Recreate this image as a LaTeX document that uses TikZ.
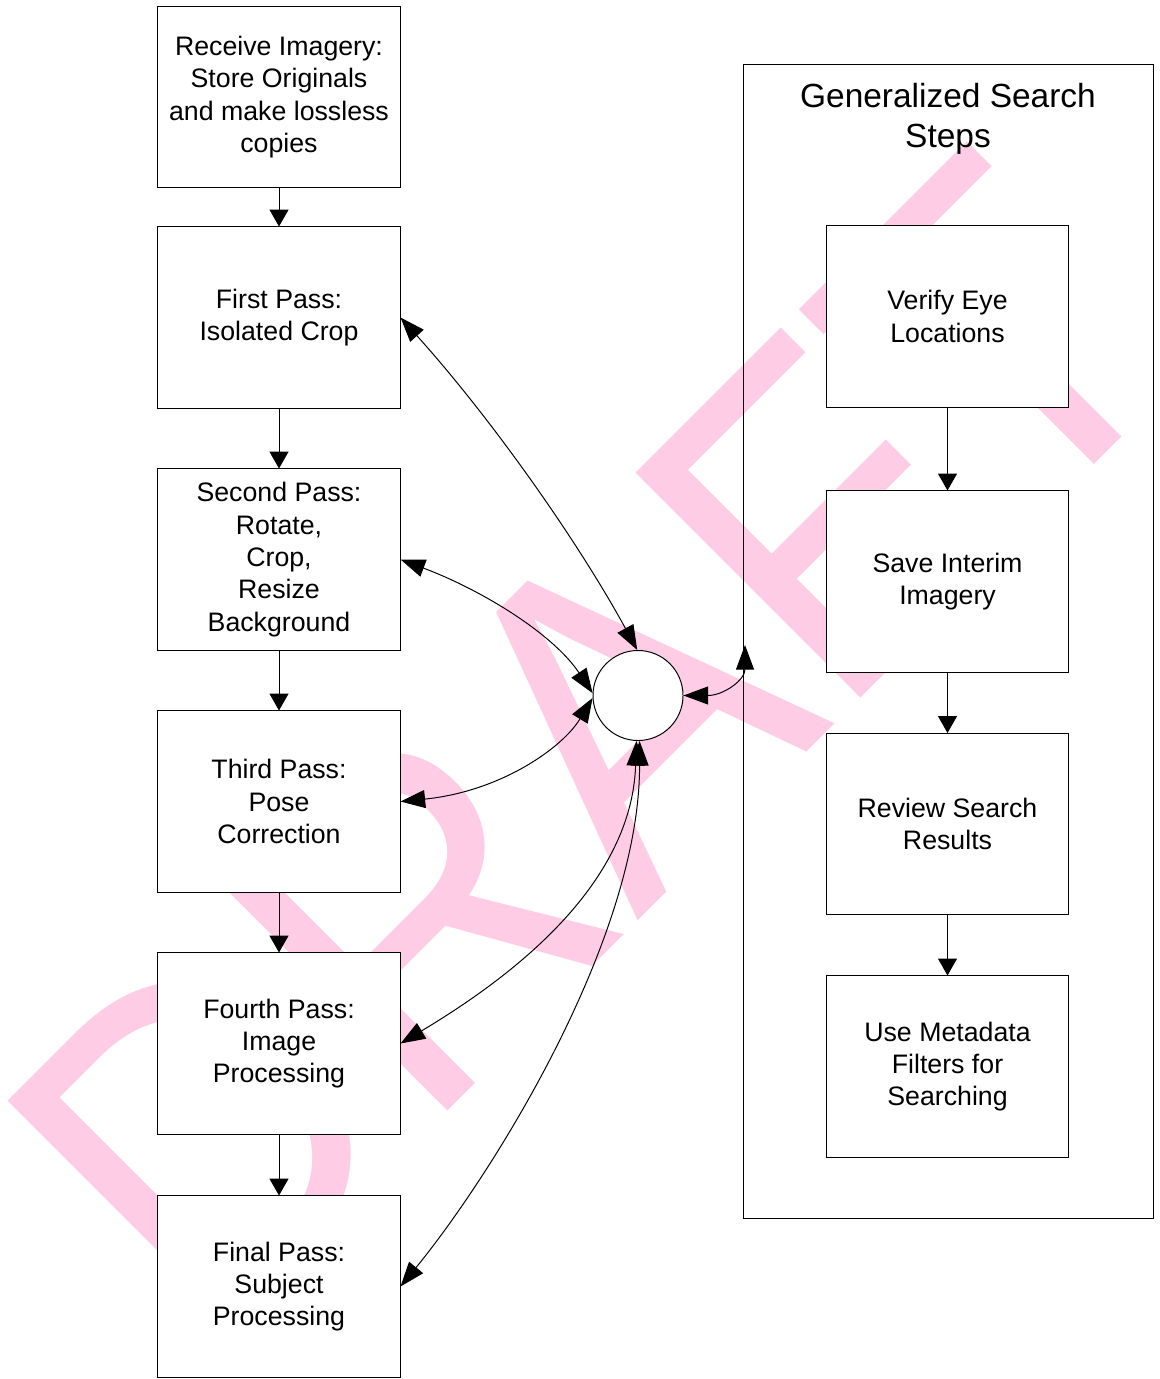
\documentclass[tikz,border=0pt]{standalone}
\usepackage{fontspec}
\setmainfont{Liberation Sans}
\usetikzlibrary{arrows.meta,calc}
\definecolor{draftpink}{RGB}{255,204,229}

\begin{document}
\begin{tikzpicture}[x=0.025cm,y=-0.025cm,line width=0.7pt,
  pass/.style={draw,fill=white,minimum width=6.05cm,minimum height=4.525cm,align=center,inner sep=2pt,font=\fontsize{19}{23}\selectfont},
  flow/.style={-{Triangle[length=12pt,width=13.5pt]}},
  link/.style={{Triangle[length=17.5pt,width=12.8pt]}-{Triangle[length=17.5pt,width=12.8pt]}}]
\useasboundingbox(0,0)rectangle(1159,1379);
% watermark
\node[rotate=45,text=draftpink,inner sep=0,font=\fontsize{299}{299}\selectfont](wm)at(591.5,742.5){\scalebox{1}[1.1]{DRAFT}};
% search steps frame
\node[draw,minimum width=10.225cm,minimum height=28.825cm](srch)at(948.5,641.5){};
\node[align=center,font=\fontsize{23.8}{28.5}\selectfont](ttl)at(948,119){Generalized Search\\Steps};
% passes
\node[pass](rcv)at(279,97){Receive Imagery:\\Store Originals\\and make lossless\\copies};
\node[pass](fp)at(279,317.5){First Pass:\\Isolated Crop};
\node[pass](sp)at(279,559.5){Second Pass:\\Rotate,\\Crop,\\Resize\\Background};
\node[pass](tp)at(279,801.5){Third Pass:\\Pose\\Correction};
\node[pass](fop)at(279,1043.5){Fourth Pass:\\Image\\Processing};
\node[pass](fin)at(279,1286.5){Final Pass:\\Subject\\Processing};
\draw[flow](rcv)--(fp);\draw[flow](fp)--(sp);\draw[flow](sp)--(tp);\draw[flow](tp)--(fop);\draw[flow](fop)--(fin);
% search steps
\node[pass](ver)at(947.5,316.5){Verify Eye\\Locations};
\node[pass](sav)at(947.5,581.5){Save Interim\\Imagery};
\node[pass](rev)at(947.5,824){Review Search\\Results};
\node[pass](use)at(947.5,1066.5){Use Metadata\\Filters for\\Searching};
\draw[flow](ver)--(sav);\draw[flow](sav)--(rev);\draw[flow](rev)--(use);
% hub
\node[draw,fill=white,circle,minimum size=2.25cm,inner sep=0](hub)at(638,695.5){};
\coordinate(gate)at(745,645);
\draw[link](fp.east)..controls +(90,100) and +(-60,-110)..(hub.91);
\draw[link](sp.east)..controls +(80,30) and +(-40,-60)..(hub.177);
\draw[link](tp.east)..controls +(100,-10) and +(-30,50)..(hub.183);
\draw[link](fop.east)..controls +(100,-60) and +(-5,150)..(hub.268);
\draw[link](fin.east)..controls +(90,-110) and +(0,200)..(hub.272);
\draw[link](hub.east)..controls +(40,0) and +(0,35)..(gate);
\end{tikzpicture}
\end{document}
